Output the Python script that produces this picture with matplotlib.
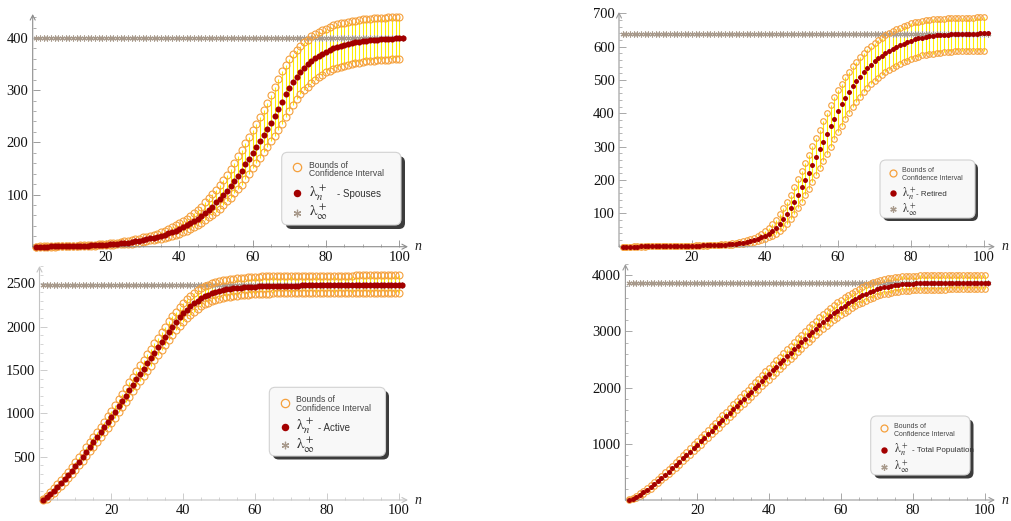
import numpy as np
import matplotlib
matplotlib.use("Agg")
from matplotlib import pyplot as plt
from matplotlib.patches import FancyBboxPatch
from matplotlib.ticker import MultipleLocator, FixedLocator

plt.rcParams['font.family'] = 'Liberation Serif'
plt.rcParams['mathtext.fontset'] = 'stix'

W, H = 1011, 521

n_mid = np.arange(1, 102)
n_bnd = np.arange(1, 101)

# ---- Spouses
spouses_mid = [0, 0, 0, 0, 1, 1, 1, 1, 1, 1,
               1, 2, 2, 2, 2, 3, 3, 3, 4, 4,
               5, 5, 6, 7, 7, 8, 9, 10, 11, 13,
               14, 16, 17, 19, 21, 23, 26, 28, 31, 34,
               37, 41, 45, 49, 54, 59, 64, 70, 77, 85,
               92, 99, 107, 116, 125, 135, 146, 158, 169, 180,
               192, 203, 214, 226, 238, 251, 264, 278, 292, 305,
               316, 326, 335, 343, 350, 356, 361, 366, 370, 374,
               377, 380, 383, 385, 387, 389, 390, 392, 393, 394,
               395, 396, 397, 397, 398, 398, 399, 399, 400, 400, 400]
spouses_hi = [0, 1, 1, 1, 1, 1, 1, 2, 2, 2,
              2, 2, 3, 3, 3, 4, 4, 5, 5, 6,
              7, 8, 8, 9, 10, 11, 12, 14, 15, 18,
              19, 21, 23, 25, 29, 31, 34, 37, 41, 45,
              50, 54, 59, 65, 70, 77, 85, 94, 101, 109,
              118, 128, 138, 149, 161, 174, 186, 198, 211, 223,
              235, 249, 262, 276, 290, 306, 321, 336, 348, 359,
              369, 377, 385, 392, 397, 403, 407, 411, 415, 418,
              421, 424, 426, 428, 429, 431, 432, 433, 435, 436,
              437, 437, 438, 438, 439, 439, 440, 440, 440, 440]
spouses_lo = [0, 0, 0, 0, 0, 0, 1, 1, 1, 1,
              1, 1, 1, 2, 2, 2, 2, 3, 3, 3,
              4, 4, 5, 5, 5, 6, 6, 7, 8, 9,
              10, 12, 13, 14, 15, 17, 19, 21, 23, 25,
              28, 31, 34, 38, 42, 46, 51, 56, 61, 66,
              72, 80, 87, 94, 102, 110, 119, 129, 139, 150,
              160, 170, 181, 191, 202, 213, 224, 236, 248, 260,
              272, 283, 292, 300, 307, 314, 320, 325, 330, 334,
              337, 340, 343, 345, 347, 349, 350, 352, 353, 354,
              355, 356, 356, 357, 357, 358, 358, 359, 359, 360]
spouses_lim = 400

# ---- Retired
retired_mid = [0, 0, 0, 0, 0, 1, 1, 1, 1, 1,
               1, 1, 1, 2, 2, 2, 2, 2, 3, 3,
               3, 3, 4, 4, 4, 5, 5, 6, 6, 7,
               8, 9, 10, 11, 13, 16, 19, 23, 28, 33,
               39, 46, 56, 68, 82, 98, 116, 135, 156, 178,
               200, 222, 245, 268, 292, 315, 338, 361, 384, 406,
               427, 446, 464, 481, 496, 510, 523, 535, 546, 556,
               565, 573, 580, 587, 593, 599, 604, 609, 613, 617,
               622, 625, 627, 629, 631, 632, 634, 635, 636, 636,
               637, 637, 638, 638, 638, 639, 639, 639, 640, 640, 640]
retired_hi = [0, 0, 0, 1, 1, 1, 1, 1, 1, 1,
              1, 2, 2, 2, 2, 2, 3, 3, 3, 3,
              4, 4, 5, 5, 5, 6, 6, 7, 8, 9,
              10, 11, 13, 16, 19, 23, 27, 33, 39, 46,
              55, 67, 81, 97, 115, 135, 156, 180, 203, 227,
              251, 276, 301, 326, 351, 376, 400, 425, 448, 469,
              489, 508, 525, 541, 555, 569, 581, 592, 603, 612,
              620, 627, 634, 641, 647, 652, 657, 661, 666, 670,
              673, 675, 677, 679, 680, 682, 683, 684, 684, 685,
              685, 686, 686, 686, 687, 687, 687, 688, 688, 688]
retired_lo = [0, 0, 0, 0, 0, 0, 0, 1, 1, 1,
              1, 1, 1, 1, 1, 2, 2, 2, 2, 2,
              3, 3, 3, 3, 4, 4, 4, 5, 5, 5,
              6, 7, 8, 9, 10, 11, 13, 16, 19, 23,
              28, 33, 39, 47, 57, 69, 83, 98, 115, 134,
              154, 174, 194, 215, 236, 258, 279, 300, 322, 343,
              363, 383, 402, 419, 435, 449, 463, 475, 487, 497,
              507, 516, 523, 530, 537, 543, 548, 553, 558, 562,
              566, 570, 574, 576, 578, 579, 581, 582, 583, 585,
              585, 586, 586, 587, 587, 587, 588, 588, 588, 588]
retired_lim = 638

# ---- Active
active_mid = [0, 30, 68, 108, 150, 194, 240, 288, 338, 390,
              443, 497, 552, 608, 665, 722, 779, 837, 895, 955,
              1017, 1079, 1142, 1205, 1268, 1331, 1393, 1455, 1516, 1576,
              1638, 1700, 1762, 1823, 1883, 1942, 2000, 2055, 2107, 2155,
              2198, 2237, 2271, 2301, 2327, 2349, 2368, 2384, 2398, 2410,
              2420, 2429, 2436, 2442, 2447, 2451, 2455, 2458, 2461, 2463,
              2465, 2467, 2468, 2469, 2470, 2471, 2472, 2473, 2473, 2474,
              2475, 2475, 2476, 2476, 2476, 2477, 2477, 2477, 2478, 2478,
              2478, 2478, 2479, 2479, 2479, 2479, 2479, 2479, 2480, 2480,
              2480, 2480, 2480, 2480, 2480, 2480, 2480, 2480, 2480, 2480, 2480]
active_hi = [16, 51, 92, 135, 180, 227, 276, 327, 380, 435,
             491, 548, 606, 665, 725, 784, 844, 905, 967, 1030,
             1095, 1160, 1226, 1292, 1358, 1423, 1488, 1552, 1616, 1679,
             1744, 1809, 1873, 1936, 1999, 2060, 2119, 2175, 2227, 2274,
             2317, 2355, 2389, 2418, 2443, 2465, 2483, 2499, 2512, 2524,
             2534, 2542, 2549, 2554, 2559, 2563, 2567, 2570, 2573, 2575,
             2577, 2579, 2580, 2581, 2582, 2583, 2584, 2584, 2585, 2586,
             2586, 2587, 2587, 2587, 2588, 2588, 2588, 2589, 2589, 2589,
             2589, 2590, 2590, 2590, 2590, 2590, 2590, 2591, 2591, 2591,
             2591, 2591, 2592, 2592, 2592, 2592, 2592, 2592, 2592, 2592]
active_lo = [0, 14, 47, 85, 124, 166, 209, 255, 302, 351,
             402, 454, 506, 560, 614, 669, 724, 780, 836, 893,
             951, 1011, 1072, 1132, 1193, 1254, 1314, 1374, 1434, 1492,
             1551, 1611, 1670, 1730, 1788, 1846, 1902, 1957, 2008, 2056,
             2100, 2140, 2175, 2206, 2233, 2256, 2276, 2293, 2307, 2320,
             2330, 2340, 2347, 2354, 2359, 2363, 2367, 2371, 2373, 2376,
             2378, 2380, 2381, 2382, 2383, 2384, 2385, 2386, 2386, 2387,
             2388, 2388, 2389, 2389, 2389, 2390, 2390, 2390, 2390, 2391,
             2391, 2391, 2391, 2391, 2391, 2392, 2392, 2392, 2392, 2392,
             2392, 2392, 2392, 2392, 2392, 2392, 2392, 2392, 2392, 2392]
active_lim = 2480

# ---- Total population
total_mid = [0, 25, 58, 96, 138, 183, 231, 282, 335, 390,
             446, 503, 561, 620, 680, 740, 801, 862, 923, 984,
             1047, 1110, 1173, 1236, 1299, 1362, 1425, 1488, 1551, 1614,
             1677, 1740, 1803, 1866, 1929, 1992, 2055, 2118, 2181, 2244,
             2307, 2370, 2433, 2496, 2559, 2622, 2685, 2748, 2810, 2872,
             2933, 2993, 3052, 3110, 3166, 3220, 3272, 3322, 3370, 3415,
             3458, 3499, 3538, 3575, 3610, 3643, 3674, 3702, 3727, 3749,
             3768, 3785, 3799, 3811, 3821, 3830, 3837, 3843, 3848, 3852,
             3855, 3858, 3860, 3862, 3863, 3864, 3865, 3866, 3866, 3867,
             3867, 3868, 3868, 3868, 3869, 3869, 3869, 3869, 3870, 3870, 3870]
total_hi = [13, 43, 80, 121, 166, 214, 266, 320, 376, 433,
            492, 551, 612, 673, 736, 798, 861, 925, 988, 1052,
            1117, 1183, 1248, 1313, 1378, 1444, 1509, 1574, 1639, 1705,
            1770, 1835, 1901, 1966, 2031, 2096, 2162, 2227, 2292, 2357,
            2423, 2488, 2553, 2618, 2684, 2749, 2814, 2879, 2943, 3007,
            3070, 3131, 3192, 3251, 3308, 3363, 3416, 3466, 3515, 3560,
            3604, 3645, 3685, 3722, 3757, 3790, 3821, 3848, 3873, 3894,
            3912, 3929, 3942, 3953, 3963, 3971, 3978, 3984, 3989, 3992,
            3995, 3998, 4000, 4002, 4003, 4004, 4005, 4005, 4006, 4006,
            4006, 4007, 4007, 4008, 4008, 4008, 4008, 4009, 4009, 4009]
total_lo = [0, 12, 40, 75, 113, 156, 201, 249, 299, 351,
            405, 460, 516, 572, 630, 688, 747, 806, 865, 924,
            984, 1045, 1106, 1167, 1228, 1289, 1350, 1411, 1472, 1533,
            1595, 1656, 1717, 1778, 1839, 1900, 1961, 2022, 2083, 2144,
            2205, 2266, 2327, 2388, 2449, 2510, 2571, 2632, 2693, 2753,
            2813, 2871, 2929, 2985, 3041, 3094, 3145, 3195, 3242, 3287,
            3330, 3371, 3409, 3446, 3481, 3514, 3545, 3574, 3599, 3622,
            3642, 3659, 3674, 3687, 3698, 3707, 3715, 3721, 3726, 3731,
            3734, 3737, 3739, 3741, 3743, 3744, 3745, 3746, 3746, 3747,
            3747, 3747, 3748, 3748, 3748, 3749, 3749, 3749, 3749, 3749]
total_lim = 3867

x_ticks = [20, 40, 60, 80, 100]

ORANGE = '#f5a03c'
RED = '#a30000'
STAR = '#a89a8c'
YELLOW = '#ffee00'

fig = plt.figure(figsize=(W / 100, H / 100), dpi=100)


def panel(px, xmax, ymax, yticks, yminor, mid, hi, lo, lim, axis_col, small):
    x0, xa, y0, yt = px
    ax = fig.add_axes([x0 / W, (H - y0) / H, (xa - x0) / W, (y0 - yt) / H])
    ax.set_xlim(0, xmax)
    ax.set_ylim(0, ymax)
    ax.patch.set_alpha(0)
    for s in ax.spines.values():
        s.set_visible(False)

    ms_o, ms_r = (4.0, 3.6) if small else (5.0, 4.4)
    ax.vlines(n_bnd, lo, hi, color=YELLOW, lw=0.8, zorder=1)
    ax.plot(n_mid, [lim] * len(n_mid), ls='none', marker=(6, 2, 0), ms=4.2,
            mec=STAR, mew=0.8, zorder=2, clip_on=False)
    for b in (hi, lo):
        ax.plot(n_bnd, b, ls='none', marker='o', ms=ms_o, mfc='none',
                mec=ORANGE, mew=0.8, zorder=3, clip_on=False)
    ax.plot(n_mid, mid, ls='none', marker='o', ms=ms_r, mfc=RED, mec=RED,
            mew=0, zorder=4, clip_on=False)

    ax.xaxis.set_major_locator(FixedLocator(x_ticks))
    ax.xaxis.set_minor_locator(MultipleLocator(5))
    ax.yaxis.set_major_locator(FixedLocator(yticks))
    ax.yaxis.set_minor_locator(MultipleLocator(yminor))
    ax.tick_params(which='both', direction='in', color=axis_col,
                   labelcolor='#111111', labelsize=10.5, top=False, right=False)
    ax.tick_params(which='major', length=5, width=0.6, pad=3)
    ax.tick_params(which='minor', length=2.5, width=0.5)

    arrow = dict(arrowstyle='->,head_length=0.35,head_width=0.18',
                 color=axis_col, lw=0.8, shrinkA=0, shrinkB=0)
    ax.annotate('', xy=(1, 0), xytext=(0, 0), xycoords='axes fraction',
                arrowprops=arrow)
    ax.annotate('', xy=(0, 1), xytext=(0, 0), xycoords='axes fraction',
                arrowprops=arrow)
    ax.text(1.0, 0, '  n', transform=ax.transAxes, ha='left', va='center',
            style='italic', fontsize=10, color='#222222')
    return ax


panel((32.7, 408, 246.7, 14), 102.4, 446, [100, 200, 300, 400], 20,
      spouses_mid, spouses_hi, spouses_lo, spouses_lim, '#8c8c8c', False)
panel((39.5, 408, 500, 266), 102.6, 2700, [500, 1000, 1500, 2000, 2500], 100,
      active_mid, active_hi, active_lo, active_lim, '#c4c4c4', False)
panel((619, 995, 246.7, 12), 103, 704, [100, 200, 300, 400, 500, 600, 700], 20,
      retired_mid, retired_hi, retired_lo, retired_lim, '#9a9a9a', True)
panel((625.4, 995, 500, 264), 102.9, 4200, [1000, 2000, 3000, 4000], 200,
      total_mid, total_hi, total_lo, total_lim, '#9a9a9a', True)

# ---- legends, drawn in pixel coordinates on a full-figure overlay
ov = fig.add_axes([0, 0, 1, 1])
ov.set_xlim(0, W)
ov.set_ylim(H, 0)
ov.axis('off')


def legend(box, shade, mx, tx, y_circ, y_txt, y_dot, y_star, name, name_x,
           fs, fs_lam, ms_o, ms_r):
    x1, y1, x2, y2 = box
    ov.add_patch(FancyBboxPatch((x1 + shade, y1 + shade), x2 - x1, y2 - y1,
                                boxstyle='round,pad=0,rounding_size=6',
                                fc='#3c3c3c', ec='none', zorder=5))
    ov.add_patch(FancyBboxPatch((x1, y1), x2 - x1, y2 - y1,
                                boxstyle='round,pad=0,rounding_size=6',
                                fc='#f8f8f8', ec='#d2d2d2', lw=0.8, zorder=6))
    ov.plot([mx], [y_circ], ls='none', marker='o', ms=ms_o, mfc='none',
            mec=ORANGE, mew=0.9, zorder=7)
    ov.plot([mx], [y_dot], ls='none', marker='o', ms=ms_r, mfc=RED, mec=RED,
            mew=0, zorder=7)
    ov.plot([mx], [y_star], ls='none', marker=(6, 2, 0), ms=ms_r,
            mec=STAR, mew=0.9, zorder=7)
    ov.text(tx, y_txt[0], 'Bounds of', family='Liberation Sans', fontsize=fs,
            color='#444444', va='center', ha='left', zorder=8)
    ov.text(tx, y_txt[1], 'Confidence Interval', family='Liberation Sans',
            fontsize=fs, color='#444444', va='center', ha='left', zorder=8)
    ov.text(tx, y_dot, r'$\mathrm{\lambda}_n^+$', fontsize=fs_lam, color='#333333',
            va='center', ha='left', zorder=8)
    ov.text(name_x, y_dot + 1, '- ' + name, family='Liberation Sans',
            fontsize=fs + 0.8, color='#333333', va='center', ha='left', zorder=8)
    ov.text(tx, y_star, r'$\mathrm{\lambda}_\infty^+$', fontsize=fs_lam,
            color='#333333', va='center', ha='left', zorder=8)


legend((281.7, 152.3, 401, 225), 4, 297.3, 309, 167.3, (165, 173.5), 193.3, 212.7,
       'Spouses', 337, 6.2, 11, 6, 5.4)
legend((269.3, 387.3, 385.5, 456), 3.5, 285, 295.7, 402.7, (400, 408.5), 426.7, 445,
       'Active', 318.3, 6.2, 11, 6, 5.4)
legend((880, 160, 975, 218), 3, 892.7, 901.5, 173.3, (170.7, 178.3), 193.3, 209.3,
       'Retired', 916.5, 5, 8.5, 5, 4.6)
legend((870.7, 416, 970, 475), 3.5, 884, 893.5, 428.3, (426, 434), 450, 466.7,
       'Total Population', 911.7, 5, 8.5, 5, 4.6)

fig.savefig('out.png', dpi=100)
